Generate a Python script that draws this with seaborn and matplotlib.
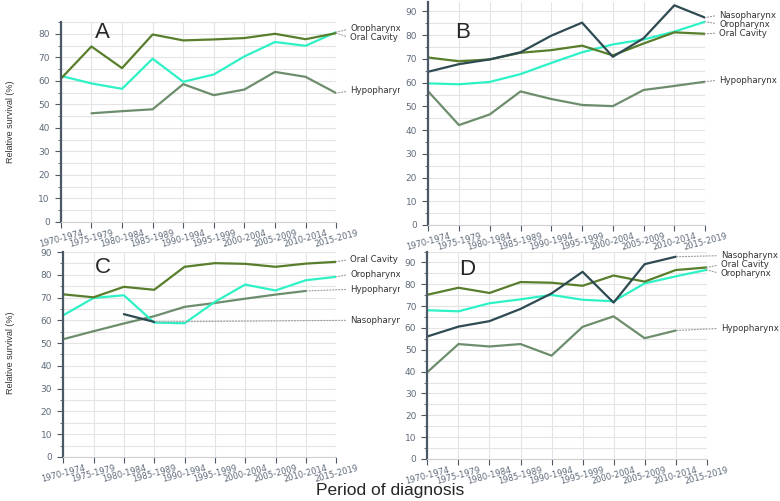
import numpy as np
import pandas as pd
import matplotlib
matplotlib.use("Agg")
import matplotlib.pyplot as plt
import seaborn as sns
from matplotlib.ticker import MultipleLocator
from matplotlib.transforms import Bbox, TransformedBbox, blended_transform_factory

# period of diagnosis (x categories)
periods = ["1970-1974", "1975-1979", "1980-1984", "1985-1989", "1990-1994",
           "1995-1999", "2000-2004", "2005-2009", "2010-2014", "2015-2019"]
nan = np.nan

# relative survival (%), one list per site and panel
a_oral = [60.9, 74.6, 65.4, 79.7, 77.2, 77.6, 78.2, 80.0, 77.7, 80.3]
a_oro = [62.1, 58.9, 56.6, 69.4, 59.6, 62.7, 70.4, 76.5, 74.9, 80.7]
a_hypo = [nan, 46.2, 47.1, 47.9, 58.6, 53.9, 56.3, 63.8, 61.7, 54.8]

b_naso = [64.6, 67.8, 69.8, 72.8, 79.8, 85.3, 70.9, 78.7, 92.6, 87.4]
b_oral = [70.6, 69.0, 69.8, 72.6, 73.7, 75.6, 71.5, 76.5, 81.2, 80.6]
b_oro = [59.7, 59.3, 60.3, 63.6, 68.3, 72.8, 76.1, 78.2, 81.5, 85.7]
b_hypo = [56.3, 42.1, 46.6, 56.3, 53.1, 50.6, 50.1, 56.9, 58.6, 60.4]

c_oral = [71.4, 70.1, 74.7, 73.4, 83.5, 85.1, 84.8, 83.5, 84.9, 85.7]
c_oro = [62.2, 69.8, 71.0, 59.0, 58.7, 68.1, 75.7, 73.1, 77.6, 79.1]
c_hypo = [51.7, 55.2, 58.6, 61.8, 65.9, 67.6, 69.5, 71.3, 72.9, nan]
c_naso = [nan, nan, 62.7, 59.3, nan, nan, nan, nan, nan, nan]

d_oral = [75.2, 78.4, 76.0, 81.0, 80.7, 79.3, 84.0, 81.2, 86.5, 87.7]
d_oro = [68.1, 67.6, 71.3, 73.1, 75.1, 72.9, 72.2, 80.4, 83.6, 86.6]
d_naso = [56.1, 60.6, 63.1, 68.7, 75.8, 85.7, 71.6, 89.2, 92.6, nan]
d_hypo = [39.8, 52.6, 51.5, 52.6, 47.3, 60.5, 65.3, 55.3, 58.8, nan]

panels = {
    "A": {"Hypopharynx": a_hypo, "Oropharynx": a_oro, "Oral Cavity": a_oral},
    "B": {"Hypopharynx": b_hypo, "Oropharynx": b_oro, "Oral Cavity": b_oral,
          "Nasopharynx": b_naso},
    "C": {"Hypopharynx": c_hypo, "Oropharynx": c_oro, "Oral Cavity": c_oral,
          "Nasopharynx": c_naso},
    "D": {"Hypopharynx": d_hypo, "Oropharynx": d_oro, "Oral Cavity": d_oral,
          "Nasopharynx": d_naso},
}

colors = {"Oral Cavity": "#587e2c", "Oropharynx": "#2ef2c6",
          "Hypopharynx": "#6d8e6d", "Nasopharynx": "#2e4a52"}

# layout: axes rect, y limit, letter position, label y (data units)
layout = {
    "A": dict(rect=[0.078, 0.557, 0.353, 0.399], ymax=85, ytop=80, letter=(0.124, 0.947),
              labels={"Oropharynx": 82.1, "Oral Cavity": 78.3, "Hypopharynx": 55.7}),
    "B": dict(rect=[0.549, 0.551, 0.355, 0.445], ymax=94, ytop=90, letter=(0.097, 0.865),
              labels={"Nasopharynx": 88.5, "Oropharynx": 84.7, "Oral Cavity": 80.9,
                      "Hypopharynx": 61.1}),
    "C": dict(rect=[0.081, 0.088, 0.350, 0.409], ymax=90, ytop=90, letter=(0.117, 0.925),
              labels={"Oral Cavity": 86.8, "Oropharynx": 80.2, "Hypopharynx": 73.6,
                      "Nasopharynx": 60.0}),
    "D": dict(rect=[0.548, 0.084, 0.358, 0.414], ymax=95, ytop=90, letter=(0.112, 0.912),
              labels={"Nasopharynx": 93.1, "Oral Cavity": 89.0, "Oropharynx": 84.9,
                      "Hypopharynx": 59.8}),
}

sns.set_style("whitegrid")
plt.rcParams["font.family"] = ["DejaVu Sans"]

fig = plt.figure(figsize=(7.8, 5.01), dpi=100)
tick_col = "#5f6b7a"
x = np.arange(len(periods))

for name, series in panels.items():
    lay = layout[name]
    ax = fig.add_axes(lay["rect"])
    ax.set_facecolor("white")

    df = pd.concat([pd.DataFrame({"period": x, "survival": v, "site": s})
                    for s, v in series.items()])
    df = df.dropna()
    sns.lineplot(data=df, x="period", y="survival", hue="site", palette=colors,
                 linewidth=1.6, legend=False, ax=ax)

    ax.set_xlim(0, len(periods) - 1)
    ax.set_ylim(0, lay["ymax"])
    ax.set_xticks(x)
    ax.set_xticklabels(periods, rotation=15, ha="center", fontsize=6, color=tick_col)
    ax.set_yticks(np.arange(0, lay["ytop"] + 1, 10))
    ax.yaxis.set_minor_locator(MultipleLocator(5))
    ax.tick_params(axis="y", which="major", labelsize=6.5, labelcolor=tick_col,
                   length=4, width=0.8, color="#4d5866", left=True, pad=4)
    ax.tick_params(axis="y", which="minor", length=2, width=0.6, color="#4d5866", left=True)
    ax.tick_params(axis="x", length=4, width=0.8, color="#4d5866", bottom=True, pad=1)
    ax.grid(which="both", color="#e4e4e4", linewidth=0.8)
    ax.set_xlabel("")
    ax.set_ylabel("")
    for sp in ["top", "right"]:
        ax.spines[sp].set_visible(False)
    ax.spines["left"].set_color("#4d5866")
    ax.spines["left"].set_linewidth(1.6)
    ax.spines["bottom"].set_color("#cfcfcf")
    ax.spines["bottom"].set_linewidth(0.8)

    ax.text(lay["letter"][0], lay["letter"][1], name, transform=ax.transAxes,
            fontsize=16, ha="left", va="center", family=["Liberation Sans", "DejaVu Sans"])

    # right-hand labels with dotted leader lines
    tr = blended_transform_factory(ax.transAxes, ax.transData)
    xt = 1 + 14 / ax.bbox.width
    if name in ("A", "C"):
        clip = TransformedBbox(Bbox([[0, 0], [0.513, 1]]), fig.transFigure)
    else:
        clip = None
    for site, ly in lay["labels"].items():
        vals = series[site]
        last = max(i for i, v in enumerate(vals) if not np.isnan(v))
        t = ax.annotate(site, xy=(last, vals[last]), xycoords="data",
                        xytext=(xt, ly), textcoords=tr, fontsize=6.2, color="#333333",
                        ha="left", va="center", annotation_clip=False,
                        arrowprops=dict(arrowstyle="-", linestyle=":", color="#9a9a9a",
                                        linewidth=0.8, shrinkA=1, shrinkB=0,
                                        relpos=(0, 0.5)))
        if clip is not None:
            t.set_clip_box(clip)
            t.set_clip_on(True)

ylab_font = ["Liberation Sans", "DejaVu Sans"]
fig.text(0.013, 0.757, "Relative survival (%)", rotation=90, ha="center", va="center",
         fontsize=6.5, color="#333333", family=ylab_font)
fig.text(0.013, 0.295, "Relative survival (%)", rotation=90, ha="center", va="center",
         fontsize=6.5, color="#333333", family=ylab_font)
fig.text(0.5, 0.021, "Period of diagnosis", ha="center", va="center", fontsize=12.5,
         family=["Liberation Sans", "DejaVu Sans"])

fig.savefig("out.png", dpi=100)
